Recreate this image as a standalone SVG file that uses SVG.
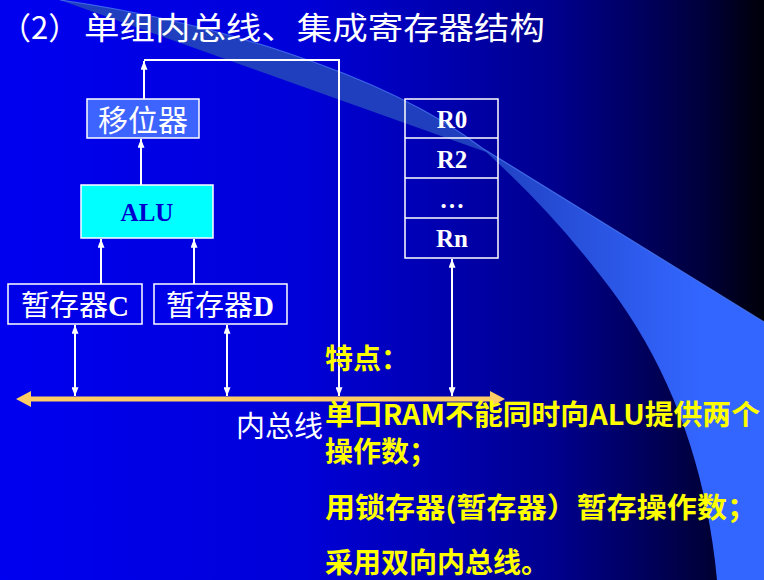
<svg xmlns="http://www.w3.org/2000/svg" width="764" height="580" viewBox="0 0 764 580">
<defs>
<linearGradient id="bg" x1="0" y1="0" x2="764" y2="0" gradientUnits="userSpaceOnUse">
<stop offset="0" stop-color="#0000f0"/>
<stop offset="0.4" stop-color="#0000d8"/>
<stop offset="0.73" stop-color="#00008c"/>
<stop offset="0.92" stop-color="#00003c"/>
<stop offset="1" stop-color="#000008"/>
</linearGradient>
<linearGradient id="sw" x1="480" y1="0" x2="700" y2="0" gradientUnits="userSpaceOnUse">
<stop offset="0" stop-color="#1f3fbf"/>
<stop offset="1" stop-color="#3366ff"/>
</linearGradient>
<marker id="wa" viewBox="0 0 10 8" refX="10" refY="4" markerUnits="userSpaceOnUse" markerWidth="9" markerHeight="7" orient="auto-start-reverse">
<path d="M0,0 L10,4 L0,8 z" fill="#ffffff"/>
</marker>
<style>
.box{stroke:#ffffff;stroke-width:1.5}
.lbl{font-family:"Liberation Serif","Noto Sans CJK SC",serif;fill:#ffffff;text-anchor:middle}
.reg{font-family:"Liberation Serif",serif;font-weight:bold;font-size:25px;fill:#ffffff;text-anchor:middle}
.wire{fill:none;stroke:#ffffff;stroke-width:2}
.note{font-family:"Noto Sans CJK SC",sans-serif;font-weight:bold;font-size:28px;fill:#ffff00}
.ttl{font-family:"Noto Sans CJK SC",sans-serif;font-size:31px;fill:#ffffff}
</style>
</defs>
<rect x="0" y="0" width="764" height="580" fill="url(#bg)"/>
<g id="swoosh">
<path d="M60,0 C200,20 380,70 482,148 L764,322 L764,580 L717,580 Q700,400 600,275 Q550,210 486,152 Z" fill="url(#sw)"/>
<path d="M60,0 C200,20 380,70 482,148 L764,322" fill="none" stroke="#4a78f0" stroke-width="1.2" opacity="0.8"/>
</g>
<g id="title">
<text class="ttl" x="0" y="39">（2）</text>
<text class="ttl" x="84" y="39" textLength="461" lengthAdjust="spacingAndGlyphs">单组内总线、集成寄存器结构</text>
</g>
<g id="shifter">
<rect class="box" x="87" y="99" width="112" height="39" fill="#3d64ff"/>
<text class="lbl" x="143" y="131" font-size="30">移位器</text>
</g>
<g id="alu">
<rect class="box" x="81" y="185" width="132" height="53" fill="#00ffff"/>
<text x="147" y="221" font-family="Liberation Serif,serif" font-weight="bold" font-size="25" fill="#0000cc" text-anchor="middle">ALU</text>
</g>
<g id="regC">
<rect class="box" x="8" y="284" width="134" height="40" fill="#0000e8"/>
<text class="lbl" x="75" y="316" font-size="29">暂存器<tspan font-weight="bold">C</tspan></text>
</g>
<g id="regD">
<rect class="box" x="154" y="284" width="133" height="40" fill="#0000e8"/>
<text class="lbl" x="220" y="316" font-size="29">暂存器<tspan font-weight="bold">D</tspan></text>
</g>
<g id="regfile">
<rect class="box" x="405" y="99" width="93" height="159" fill="none"/>
<line class="box" x1="405" y1="138" x2="498" y2="138"/>
<line class="box" x1="405" y1="178" x2="498" y2="178"/>
<line class="box" x1="405" y1="218" x2="498" y2="218"/>
<text class="reg" x="452" y="128">R0</text>
<text class="reg" x="452" y="168">R2</text>
<text class="reg" x="452" y="208">…</text>
<text class="reg" x="452" y="247">Rn</text>
</g>
<g id="bus">
<line x1="28" y1="399" x2="493" y2="399" stroke="#ffcc66" stroke-width="5"/>
<polygon points="16,399 31,391 31,407" fill="#ffcc66"/>
<polygon points="505,399 490,391 490,407" fill="#ffcc66"/>
<text x="236" y="437" font-family="Noto Sans CJK SC,sans-serif" font-size="29" fill="#ffffff">内总线</text>
</g>
<g id="connectors">
<path class="wire" d="M144,99 V61" marker-end="url(#wa)"/>
<path class="wire" d="M144,60 H339 V396" marker-end="url(#wa)"/>
<path class="wire" d="M141,185 V139" marker-end="url(#wa)"/>
<path class="wire" d="M101,284 V239" marker-end="url(#wa)"/>
<path class="wire" d="M194,284 V239" marker-end="url(#wa)"/>
<path class="wire" d="M75,325 V396" marker-start="url(#wa)" marker-end="url(#wa)"/>
<path class="wire" d="M227,325 V396" marker-start="url(#wa)" marker-end="url(#wa)"/>
<path class="wire" d="M452,259 V396" marker-start="url(#wa)" marker-end="url(#wa)"/>
</g>
<g id="notes">
<text class="note" x="325" y="369" font-size="27">特点：</text>
<text class="note" x="325" y="425" textLength="435" lengthAdjust="spacingAndGlyphs">单口RAM不能同时向ALU提供两个</text>
<text class="note" x="325" y="462">操作数；</text>
<text class="note" x="325" y="518" textLength="432" lengthAdjust="spacingAndGlyphs">用锁存器(暂存器）暂存操作数；</text>
<text class="note" x="325" y="573">采用双向内总线。</text>
</g>
</svg>
